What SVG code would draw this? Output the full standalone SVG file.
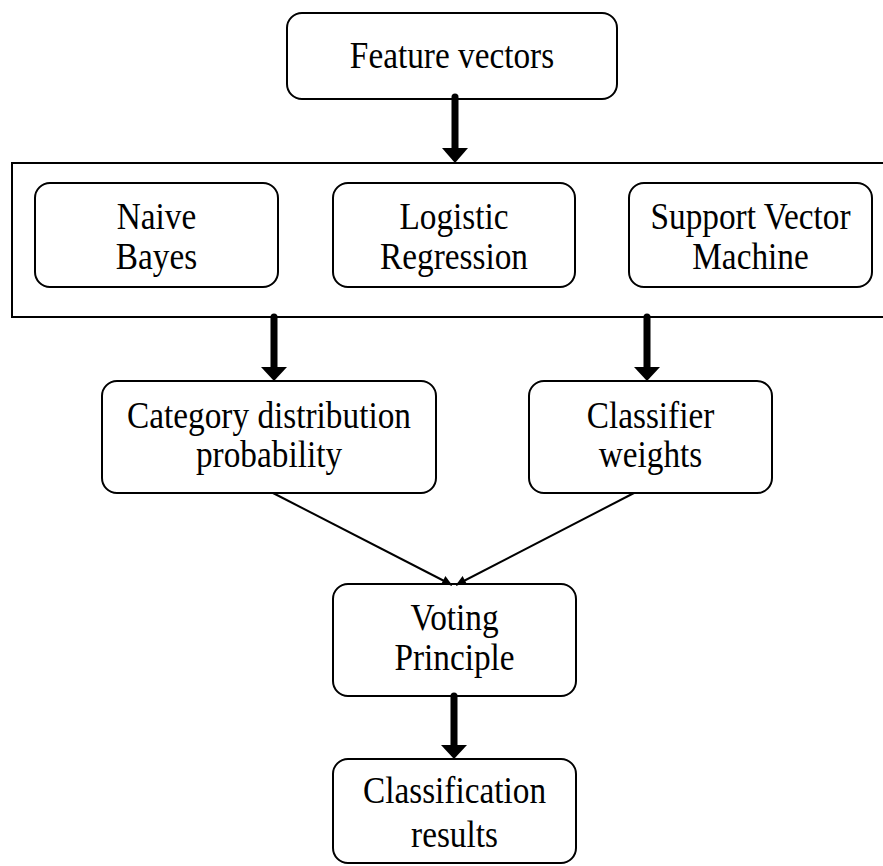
<svg xmlns="http://www.w3.org/2000/svg" width="883" height="866" viewBox="0 0 883 866">
<defs>
<marker id="ah" viewBox="0 0 10 10" refX="10" refY="5" markerWidth="12" markerHeight="10" markerUnits="userSpaceOnUse" orient="auto">
<path d="M0,0 L10,5 L0,10 z" fill="#000"/>
</marker>
</defs>
<style>
.box{fill:#fff;stroke:#000;stroke-width:2}
.t{font-family:"Liberation Serif","Times New Roman",serif;font-size:37px;fill:#000;text-anchor:middle}
.shaft{stroke:#000;stroke-width:7;stroke-linecap:round}
.thin{stroke:#000;stroke-width:2;fill:none}
</style>
<rect width="883" height="866" fill="#fff"/>
<g id="container">
<path d="M890,163 L12,163 L12,317 L890,317" class="thin"/>
</g>
<g id="feature">
<rect class="box" x="287" y="13" width="330" height="86" rx="15"/>
<text class="t" transform="matrix(0.9 0 0 1 452 68)">Feature vectors</text>
</g>
<g id="naive-bayes">
<rect class="box" x="35" y="183" width="243" height="104" rx="15"/>
<text class="t" transform="matrix(0.9 0 0 1 156.5 229)">Naive</text>
<text class="t" transform="matrix(0.9 0 0 1 156.5 269)">Bayes</text>
</g>
<g id="logistic">
<rect class="box" x="333" y="183" width="242" height="104" rx="15"/>
<text class="t" transform="matrix(0.9 0 0 1 454 229)">Logistic</text>
<text class="t" transform="matrix(0.9 0 0 1 454 269)">Regression</text>
</g>
<g id="svm">
<rect class="box" x="629" y="183" width="243" height="104" rx="15"/>
<text class="t" transform="matrix(0.9 0 0 1 750.5 229)">Support Vector</text>
<text class="t" transform="matrix(0.9 0 0 1 750.5 269)">Machine</text>
</g>
<g id="category">
<rect class="box" x="102" y="381" width="334" height="112" rx="15"/>
<text class="t" transform="matrix(0.9 0 0 1 269 428)">Category distribution</text>
<text class="t" transform="matrix(0.9 0 0 1 269 467)">probability</text>
</g>
<g id="classifier">
<rect class="box" x="529" y="381" width="243" height="112" rx="15"/>
<text class="t" transform="matrix(0.9 0 0 1 650.5 428)">Classifier</text>
<text class="t" transform="matrix(0.9 0 0 1 650.5 467)">weights</text>
</g>
<g id="voting">
<rect class="box" x="333" y="584" width="243" height="112" rx="15"/>
<text class="t" transform="matrix(0.9 0 0 1 454.5 630)">Voting</text>
<text class="t" transform="matrix(0.9 0 0 1 454.5 670)">Principle</text>
</g>
<g id="results">
<rect class="box" x="333" y="759" width="243" height="104" rx="15"/>
<text class="t" transform="matrix(0.9 0 0 1 454.5 803)">Classification</text>
<text class="t" transform="matrix(0.9 0 0 1 454.5 847)">results</text>
</g>
<g id="connectors">
<line class="shaft" x1="455" y1="97" x2="455" y2="149"/>
<polygon points="442,148 468,148 455,163" fill="#000"/>
<line class="shaft" x1="274" y1="317" x2="274" y2="368"/>
<polygon points="261,367 287,367 274,381" fill="#000"/>
<line class="shaft" x1="647" y1="317" x2="647" y2="368"/>
<polygon points="634,367 660,367 647,381" fill="#000"/>
<line class="shaft" x1="454" y1="696" x2="454" y2="746"/>
<polygon points="441,745 467,745 454,759" fill="#000"/>
<line class="thin" x1="273" y1="493" x2="452" y2="585" marker-end="url(#ah)"/>
<line class="thin" x1="634" y1="493" x2="456" y2="585" marker-end="url(#ah)"/>
</g>
</svg>
